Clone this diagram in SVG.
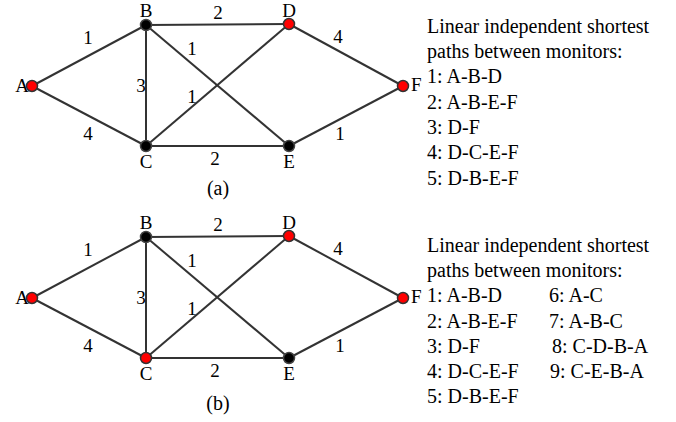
<svg xmlns="http://www.w3.org/2000/svg" width="676" height="422" viewBox="0 0 676 422">
<style>
.e{stroke:#333;stroke-width:2;fill:none}
.t{font-family:"Liberation Serif","Times New Roman",serif;font-size:19px;fill:#000}
.m{text-anchor:middle}
.s{font-family:"Liberation Serif","Times New Roman",serif;font-size:20px;fill:#000}
.r{fill:#ff0000;stroke:#333;stroke-width:1.5}
.k{fill:#000;stroke:#444;stroke-width:1.5}
</style>
<rect width="676" height="422" fill="#fff"/>
<g id="graph-a">
<g id="connectors-a">
<line class="e" x1="32" y1="86" x2="146" y2="25"/>
<line class="e" x1="32" y1="86" x2="146" y2="146"/>
<line class="e" x1="146" y1="25" x2="146" y2="146"/>
<line class="e" x1="146" y1="25" x2="289" y2="24"/>
<line class="e" x1="146" y1="25" x2="289" y2="146"/>
<line class="e" x1="146" y1="146" x2="289" y2="24"/>
<line class="e" x1="146" y1="146" x2="289" y2="146"/>
<line class="e" x1="289" y1="24" x2="403" y2="86"/>
<line class="e" x1="289" y1="146" x2="403" y2="86"/>
<text class="t m" x="88" y="44">1</text>
<text class="t m" x="88" y="140">4</text>
<text class="t m" x="141" y="92">3</text>
<text class="t m" x="192" y="55">1</text>
<text class="t m" x="192" y="103">1</text>
<text class="t m" x="218" y="19">2</text>
<text class="t m" x="215" y="165">2</text>
<text class="t m" x="338" y="43">4</text>
<text class="t m" x="340" y="140">1</text>
</g>
<g id="a-A"><text class="t" x="29" y="92" text-anchor="end">A</text><circle class="r" cx="32" cy="86" r="5.5"/></g>
<g id="a-B"><text class="t m" x="146" y="17">B</text><circle class="k" cx="146" cy="25" r="5.5"/></g>
<g id="a-C"><text class="t m" x="146" y="168">C</text><circle class="k" cx="146" cy="146" r="5.5"/></g>
<g id="a-D"><text class="t m" x="289" y="17">D</text><circle class="r" cx="289" cy="24" r="5.5"/></g>
<g id="a-E"><text class="t m" x="289" y="168">E</text><circle class="k" cx="289" cy="146" r="5.5"/></g>
<g id="a-F"><text class="t" x="411" y="91">F</text><circle class="r" cx="403" cy="86" r="5.5"/></g>
<text class="s m" x="218" y="195">(a)</text>
<g id="list-a">
<text class="s" x="427" y="33">Linear independent shortest</text>
<text class="s" x="427" y="58">paths between monitors:</text>
<text class="s" x="427" y="83">1: A-B-D</text>
<text class="s" x="427" y="109">2: A-B-E-F</text>
<text class="s" x="427" y="134">3: D-F</text>
<text class="s" x="427" y="159">4: D-C-E-F</text>
<text class="s" x="427" y="185">5: D-B-E-F</text>
</g>
</g>
<g id="graph-b" transform="translate(0,212)">
<g id="connectors-b">
<line class="e" x1="32" y1="86" x2="146" y2="25"/>
<line class="e" x1="32" y1="86" x2="146" y2="146"/>
<line class="e" x1="146" y1="25" x2="146" y2="146"/>
<line class="e" x1="146" y1="25" x2="289" y2="24"/>
<line class="e" x1="146" y1="25" x2="289" y2="146"/>
<line class="e" x1="146" y1="146" x2="289" y2="24"/>
<line class="e" x1="146" y1="146" x2="289" y2="146"/>
<line class="e" x1="289" y1="24" x2="403" y2="86"/>
<line class="e" x1="289" y1="146" x2="403" y2="86"/>
<text class="t m" x="88" y="44">1</text>
<text class="t m" x="88" y="140">4</text>
<text class="t m" x="141" y="92">3</text>
<text class="t m" x="192" y="55">1</text>
<text class="t m" x="192" y="103">1</text>
<text class="t m" x="218" y="19">2</text>
<text class="t m" x="215" y="165">2</text>
<text class="t m" x="338" y="43">4</text>
<text class="t m" x="340" y="140">1</text>
</g>
<g id="b-A"><text class="t" x="29" y="92" text-anchor="end">A</text><circle class="r" cx="32" cy="86" r="5.5"/></g>
<g id="b-B"><text class="t m" x="146" y="17">B</text><circle class="k" cx="146" cy="25" r="5.5"/></g>
<g id="b-C"><text class="t m" x="146" y="168">C</text><circle class="r" cx="146" cy="146" r="5.5"/></g>
<g id="b-D"><text class="t m" x="289" y="17">D</text><circle class="r" cx="289" cy="24" r="5.5"/></g>
<g id="b-E"><text class="t m" x="289" y="168">E</text><circle class="k" cx="289" cy="146" r="5.5"/></g>
<g id="b-F"><text class="t" x="411" y="91">F</text><circle class="r" cx="403" cy="86" r="5.5"/></g>
<text class="s m" x="218" y="198">(b)</text>
</g>
<g id="list-b">
<text class="s" x="427" y="252">Linear independent shortest</text>
<text class="s" x="427" y="277">paths between monitors:</text>
<text class="s" x="427" y="302">1: A-B-D</text>
<text class="s" x="427" y="328">2: A-B-E-F</text>
<text class="s" x="427" y="353">3: D-F</text>
<text class="s" x="427" y="378">4: D-C-E-F</text>
<text class="s" x="427" y="403">5: D-B-E-F</text>
<text class="s" x="549" y="302">6: A-C</text>
<text class="s" x="549" y="328">7: A-B-C</text>
<text class="s" x="552" y="353">8: C-D-B-A</text>
<text class="s" x="550" y="378">9: C-E-B-A</text>
</g>
</svg>
